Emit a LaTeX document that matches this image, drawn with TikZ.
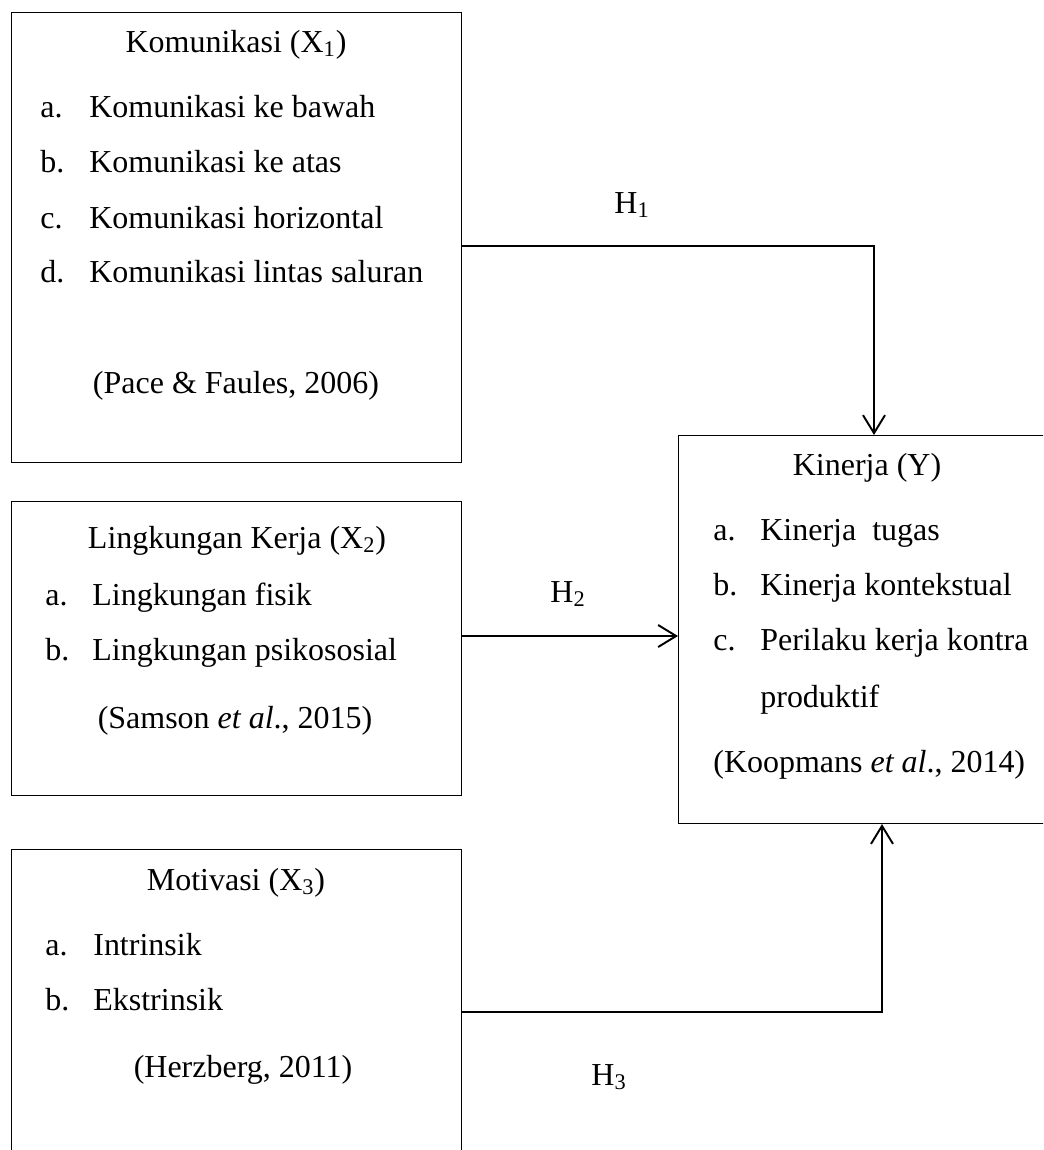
\documentclass[tikz,border=0pt]{standalone}
\usepackage{fontspec}
\setmainfont{Liberation Serif}
\usetikzlibrary{arrows.meta,positioning,calc}

\begin{document}
\begin{tikzpicture}
[box/.style={draw,line width=0.6pt,rectangle,anchor=north west,inner sep=0pt},
txt/.style={font=\fontsize{18.2}{21}\selectfont,inner sep=0pt,anchor=base},
item/.style={txt,anchor=base west},
link/.style={line width=1.1pt,-{Straight Barb[length=3.6mm,width=4.4mm,line width=1.1pt]}}
]
\useasboundingbox (0,0) rectangle (20.86,-23);
\clip (0,0) rectangle (20.86,-23);
%% boxes
\node[box,minimum width=9cm,minimum height=9cm] (komunikasi) at (0.22,-0.24) {};
\node[box,minimum width=9cm,minimum height=5.88cm] (lingkungan) at (0.22,-10.02) {};
\node[box,minimum width=9cm,minimum height=7cm] (motivasi) at (0.22,-16.98) {};
\node[box,minimum width=7.56cm,minimum height=7.76cm] (kinerja) at (13.56,-8.7) {};
%% komunikasi (X1)
\node[txt] (komTitle) at (4.72,-1.04) {Komunikasi (X\textsubscript{1})};
\foreach \l/\t/\y [count=\i] in {a./Komunikasi ke bawah/-2.34,b./Komunikasi ke atas/-3.44,
  c./Komunikasi horizontal/-4.56,d./Komunikasi lintas saluran/-5.64}{
  \node[item] (komL\i) at (0.8,\y) {\l};
  \node[item] (komT\i) at (1.78,\y) {\t};
}
\node[txt] (komRef) at (4.72,-7.86) {(Pace \& Faules, 2006)};
%% lingkungan kerja (X2)
\node[txt] (linTitle) at (4.74,-10.96) {Lingkungan Kerja (X\textsubscript{2})};
\foreach \l/\t/\y [count=\i] in {a./Lingkungan fisik/-12.1,b./Lingkungan psikososial/-13.2}{
  \node[item] (linL\i) at (0.9,\y) {\l};
  \node[item] (linT\i) at (1.84,\y) {\t};
}
\node[txt] (linRef) at (4.7,-14.56) {(Samson \textit{et al}., 2015)};
%% motivasi (X3)
\node[txt] (motTitle) at (4.72,-17.8) {Motivasi (X\textsubscript{3})};
\foreach \l/\t/\y [count=\i] in {a./Intrinsik/-19.1,b./Ekstrinsik/-20.2}{
  \node[item] (motL\i) at (0.9,\y) {\l};
  \node[item] (motT\i) at (1.86,\y) {\t};
}
\node[txt] (motRef) at (4.86,-21.54) {(Herzberg, 2011)};
%% kinerja (Y)
\node[txt] (kinTitle) at (17.34,-9.5) {Kinerja (Y)};
\foreach \l/\t/\y [count=\i] in {a./Kinerja\ \ tugas/-10.8,b./Kinerja kontekstual/-11.9,
  c./Perilaku kerja kontra/-13.0}{
  \node[item] (kinL\i) at (14.26,\y) {\l};
  \node[item] (kinT\i) at (15.2,\y) {\t};
}
\node[item] (kinT4) at (15.2,-14.14) {produktif};
\node[item] (kinRef) at (14.26,-15.44) {(Koopmans \textit{et al}., 2014)};
%% hypotheses
\coordinate (h1) at (17.48,-4.92);
\coordinate (h2) at (13.56,-12.72);
\coordinate (h3) at (17.64,-20.24);
\draw[link] (komunikasi.east |- h1) -- (h1) -- (h1 |- kinerja.north);
\draw[link] (lingkungan.east |- h2) -- (kinerja.west |- h2);
\draw[link] (motivasi.east |- h3) -- (h3) -- (h3 |- kinerja.south);
\node[txt] (h1Label) at (12.64,-4.26) {H\textsubscript{1}};
\node[txt] (h2Label) at (11.36,-12.04) {H\textsubscript{2}};
\node[txt] (h3Label) at (12.18,-21.7) {H\textsubscript{3}};
\end{tikzpicture}
\end{document}
